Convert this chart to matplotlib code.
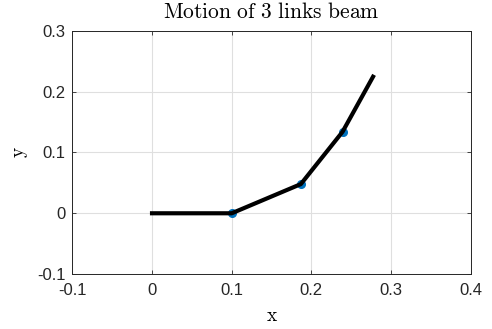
import matplotlib
matplotlib.use("Agg")
import matplotlib.pyplot as plt

# Data
beam_x = [0.0, 0.1, 0.1867, 0.239, 0.2773]
beam_y = [0.0, 0.0, 0.048, 0.134, 0.2247]
joint_x = [0.1, 0.1867, 0.239]
joint_y = [0.0, 0.048, 0.134]
xticks = [-0.1, 0, 0.1, 0.2, 0.3, 0.4]
xticklabels = ["-0.1", "0", "0.1", "0.2", "0.3", "0.4"]
yticks = [-0.1, 0, 0.1, 0.2, 0.3]
yticklabels = ["-0.1", "0", "0.1", "0.2", "0.3"]

plt.rcParams['mathtext.fontset'] = 'cm'
plt.rcParams['font.family'] = ['Liberation Sans', 'DejaVu Sans']

fig = plt.figure(figsize=(4.92, 3.29), dpi=100)
ax = fig.add_axes([0.147, 0.167, 0.810, 0.739])

ax.plot(joint_x, joint_y, 'o', color='#0072BD', markersize=5.5, zorder=2)
ax.plot(beam_x, beam_y, '-', color='black', linewidth=3, zorder=3)

ax.set_xlim(-0.1, 0.4)
ax.set_ylim(-0.1, 0.3)
ax.set_xticks(xticks)
ax.set_xticklabels(xticklabels)
ax.set_yticks(yticks)
ax.set_yticklabels(yticklabels)
ax.grid(True, color='#dfdfdf', linewidth=0.8)
ax.set_axisbelow(True)
ax.tick_params(direction='in', length=3, width=0.6, color='#262626',
               labelsize=12, labelcolor='#262626', top=True, right=True)
ax.tick_params(axis='x', pad=6.5)
ax.tick_params(axis='y', pad=5)
for s in ax.spines.values():
    s.set_color('#262626')
    s.set_linewidth(0.7)

ax.set_title(r'$\mathrm{Motion\ of\ 3\ links\ beam}$', fontsize=15.5, pad=9)
ax.set_xlabel(r'$\mathrm{x}$', fontsize=14, labelpad=7)
ax.set_ylabel(r'$\mathrm{y}$', fontsize=14, labelpad=5)

fig.savefig('out.png', dpi=100)
